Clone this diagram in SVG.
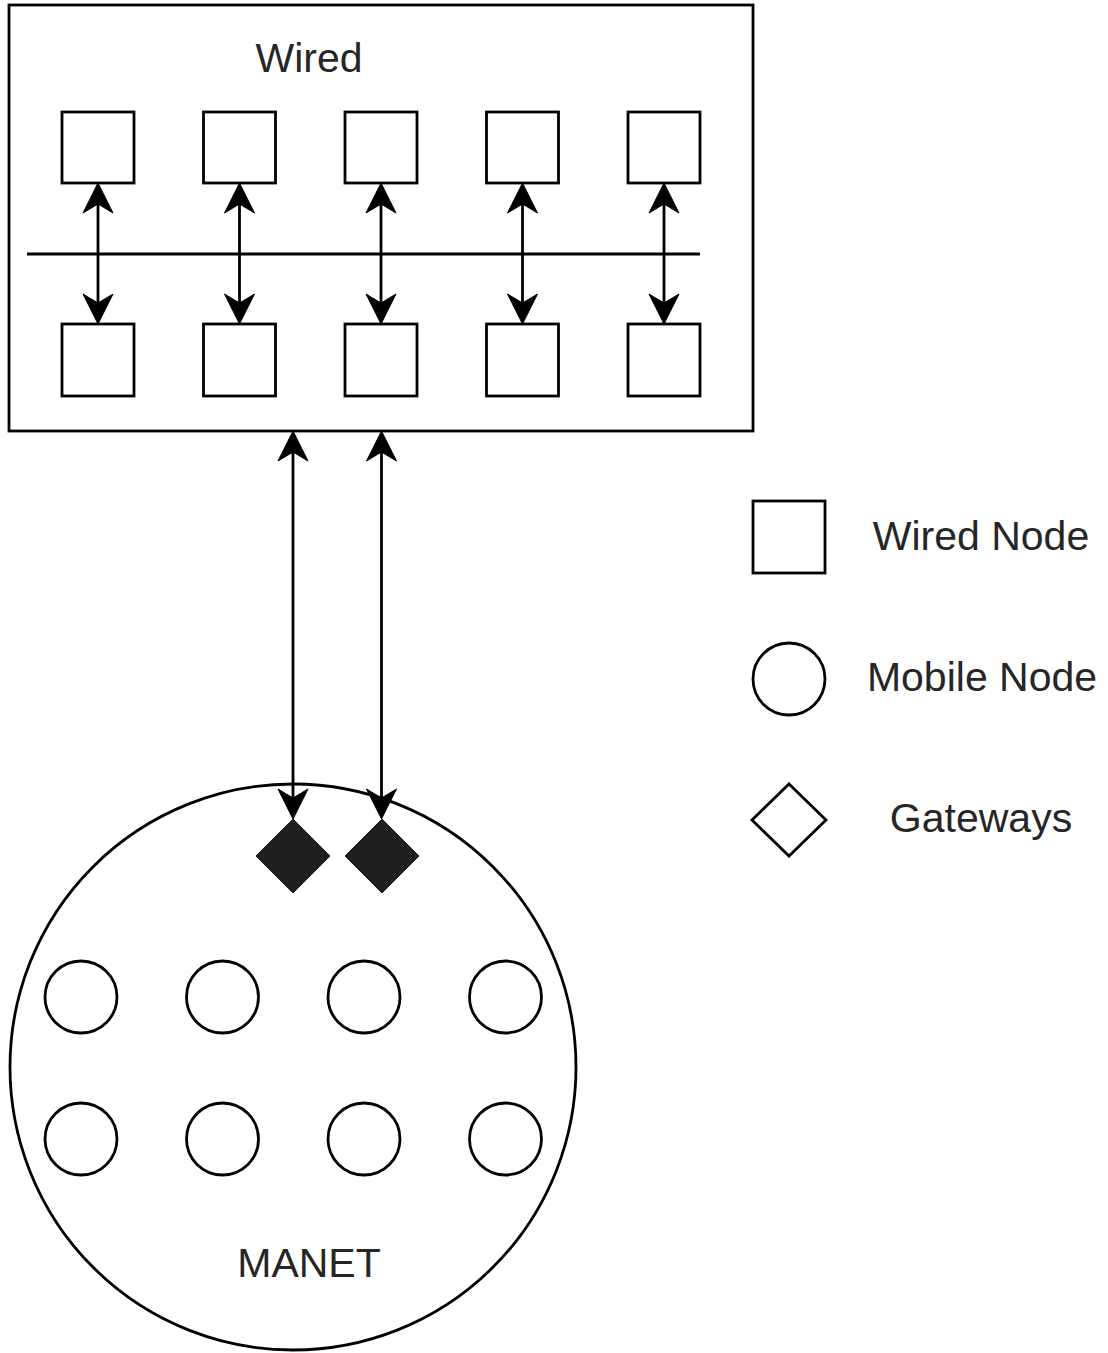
<svg xmlns="http://www.w3.org/2000/svg" width="1108" height="1353" viewBox="0 0 1108 1353">
  <style>
    .box { fill: #ffffff; stroke: #000000; stroke-width: 2.8; }
    .node { fill: #ffffff; stroke: #000000; stroke-width: 2.8; }
    .gw { fill: #1f1f1f; stroke: #1f1f1f; stroke-width: 1; }
    .bus { stroke: #000000; stroke-width: 2.8; fill: none; }
    .link { stroke: #000000; stroke-width: 2.8; fill: none; marker-start: url(#arrow); marker-end: url(#arrow); }
    .label { font-family: "Liberation Sans", Arial, sans-serif; font-size: 41px; fill: #262626; text-anchor: middle; }
  </style>
  <defs>
    <!-- classic notched arrowhead, tip sits 4px beyond the line end -->
    <marker id="arrow" markerUnits="userSpaceOnUse" viewBox="-30 -17 36 34" markerWidth="36" markerHeight="34" refX="0" refY="0" orient="auto-start-reverse">
      <path d="M4,0 L-26,-15 L-17,0 L-26,15 Z" fill="#000000" stroke="#000000" stroke-width="1" stroke-linejoin="miter"/>
    </marker>
  </defs>

  <rect width="1108" height="1353" fill="#ffffff"/>

  <!-- wired network container -->
  <g id="wired">
    <rect class="box" x="9" y="5" width="744" height="426"/>
    <text class="label" x="309" y="72">Wired</text>
    <line class="bus" x1="27" y1="254" x2="700" y2="254"/>
  </g>

  <!-- wired nodes, upper row -->
  <g id="wired-top-1"><rect class="node" x="62" y="112" width="72" height="71"/></g>
  <g id="wired-top-2"><rect class="node" x="203.5" y="112" width="72" height="71"/></g>
  <g id="wired-top-3"><rect class="node" x="345" y="112" width="72" height="71"/></g>
  <g id="wired-top-4"><rect class="node" x="486.5" y="112" width="72" height="71"/></g>
  <g id="wired-top-5"><rect class="node" x="628" y="112" width="72" height="71"/></g>

  <!-- wired nodes, lower row -->
  <g id="wired-bottom-1"><rect class="node" x="62" y="324" width="72" height="72"/></g>
  <g id="wired-bottom-2"><rect class="node" x="203.5" y="324" width="72" height="72"/></g>
  <g id="wired-bottom-3"><rect class="node" x="345" y="324" width="72" height="72"/></g>
  <g id="wired-bottom-4"><rect class="node" x="486.5" y="324" width="72" height="72"/></g>
  <g id="wired-bottom-5"><rect class="node" x="628" y="324" width="72" height="72"/></g>

  <!-- MANET cloud -->
  <g id="manet">
    <circle class="box" cx="293" cy="1067" r="283"/>
    <text class="label" x="309" y="1277">MANET</text>
  </g>

  <!-- mobile nodes -->
  <g id="mobile-1"><circle class="node" cx="81" cy="997" r="36"/></g>
  <g id="mobile-2"><circle class="node" cx="222.5" cy="997" r="36"/></g>
  <g id="mobile-3"><circle class="node" cx="364" cy="997" r="36"/></g>
  <g id="mobile-4"><circle class="node" cx="505.5" cy="997" r="36"/></g>
  <g id="mobile-5"><circle class="node" cx="81" cy="1139" r="36"/></g>
  <g id="mobile-6"><circle class="node" cx="222.5" cy="1139" r="36"/></g>
  <g id="mobile-7"><circle class="node" cx="364" cy="1139" r="36"/></g>
  <g id="mobile-8"><circle class="node" cx="505.5" cy="1139" r="36"/></g>

  <!-- gateways -->
  <g id="gateway-1"><polygon class="gw" points="293,819 330,856 293,893 256,856"/></g>
  <g id="gateway-2"><polygon class="gw" points="382,819 419,856 382,893 345,856"/></g>

  <!-- links -->
  <g id="connectors">
    <line class="link" x1="98" y1="187" x2="98" y2="320"/>
    <line class="link" x1="239.5" y1="187" x2="239.5" y2="320"/>
    <line class="link" x1="381" y1="187" x2="381" y2="320"/>
    <line class="link" x1="522.5" y1="187" x2="522.5" y2="320"/>
    <line class="link" x1="664" y1="187" x2="664" y2="320"/>
    <line class="link" x1="293" y1="435" x2="293" y2="815"/>
    <line class="link" x1="381.5" y1="435" x2="381.5" y2="815"/>
  </g>

  <!-- legend -->
  <g id="legend-wired">
    <rect class="node" x="753" y="501" width="72" height="72"/>
    <text class="label" x="981" y="550">Wired Node</text>
  </g>
  <g id="legend-mobile">
    <circle class="node" cx="789" cy="679" r="36"/>
    <text class="label" x="982" y="691">Mobile Node</text>
  </g>
  <g id="legend-gateway">
    <polygon class="node" points="789,784 826,820 789,856 752,820"/>
    <text class="label" x="981" y="832">Gateways</text>
  </g>
</svg>
